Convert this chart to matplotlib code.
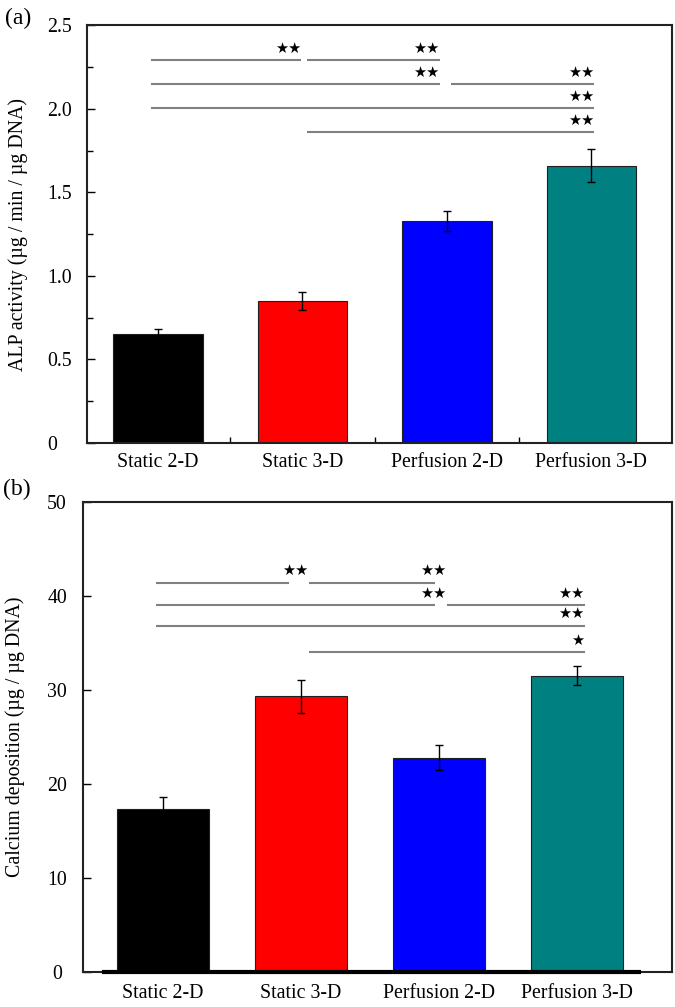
import matplotlib
matplotlib.use("Agg")
import matplotlib.pyplot as plt
from matplotlib.ticker import MultipleLocator, FixedLocator

plt.rcParams['font.family'] = ['Liberation Serif', 'DejaVu Serif']

categories = ["Static 2-D", "Static 3-D", "Perfusion 2-D", "Perfusion 3-D"]
colors = ["#000000", "#ff0000", "#0000ff", "#008080"]

alp_values = [0.65, 0.85, 1.33, 1.66]
alp_errors = [0.03, 0.055, 0.06, 0.10]
alp_ticks = [0, 0.5, 1.0, 1.5, 2.0, 2.5]
alp_ticklabels = ["0", "0.5", "1.0", "1.5", "2.0", "2.5"]
# comparisons: (group i, group j, row, stars)
alp_sig = [(0, 1, 0, "★★"), (1, 2, 0, "★★"), (0, 2, 1, "★★"), (2, 3, 1, "★★"),
           (0, 3, 2, "★★"), (1, 3, 3, "★★")]
alp_rows = [2.29, 2.15, 2.005, 1.86]

ca_values = [17.3, 29.3, 22.8, 31.5]
ca_errors = [1.3, 1.8, 1.3, 1.0]
ca_ticks = [0, 10, 20, 30, 40, 50]
ca_ticklabels = ["0", "10", "20", "30", "40", "50"]
ca_sig = [(0, 1, 0, "★★"), (1, 2, 0, "★★"), (0, 2, 1, "★★"), (2, 3, 1, "★★"),
          (0, 3, 2, "★★"), (1, 3, 3, "★")]
ca_rows = [41.4, 39.0, 36.8, 34.0]

fig = plt.figure(figsize=(6.75, 10.07), dpi=100)
ax1 = fig.add_axes([0.129, 0.560, 0.867, 0.415])
ax2 = fig.add_axes([0.123, 0.035, 0.873, 0.4665])

FS = 14.3

def draw(ax, values, errors, ticks, ticklabels, sig, rows, ylim, xlim, width,
         ylabel, star_off, minor, end_off, start_off, star_right, ypad, yha,
         xpad, labelpad):
    x = list(range(len(categories)))
    ax.bar(x, values, width=width, color=colors, edgecolor="#202020", linewidth=0.8,
           zorder=2)
    ax.errorbar(x, values, yerr=errors, fmt="none", ecolor="black", elinewidth=1.0,
                capsize=3, capthick=1.0, zorder=3)
    ax.set_xlim(*xlim)
    ax.set_ylim(*ylim)
    ax.set_xticks(x)
    ax.set_xticklabels(categories, fontsize=FS)
    ax.set_yticks(ticks)
    ax.set_yticklabels(ticklabels, fontsize=FS)
    for lab in ax.get_yticklabels():
        lab.set_horizontalalignment(yha)
    ax.tick_params(axis="x", length=0, pad=xpad)
    ax.tick_params(axis="y", direction="in", length=6, width=1, pad=ypad)
    if minor is not None:
        ax.yaxis.set_minor_locator(MultipleLocator(minor))
        ax.xaxis.set_minor_locator(FixedLocator([0.5, 1.5, 2.5, 3.0]))
        ax.tick_params(which="minor", direction="in", length=4, width=1)
    ax.set_ylabel(ylabel, fontsize=FS, labelpad=labelpad)
    for s in ax.spines.values():
        s.set_linewidth(1.5)
        s.set_color("#222222")
    for (i, j, r, lab) in sig:
        y = rows[r]
        x0 = i - 0.05 if i == 0 else i + start_off
        x1 = j + end_off[j]
        ax.plot([x0, x1], [y, y], color="#808080", lw=1.5, zorder=1,
                solid_capstyle="butt")
        xr = x1 if star_right is None else j + star_right
        ax.text(xr, y + star_off, lab, ha="right", va="center",
                fontsize=10.5, family=["DejaVu Sans"], color="black")

draw(ax1, alp_values, alp_errors, alp_ticks, alp_ticklabels, alp_sig, alp_rows,
     (0, 2.5), (-0.49, 3.56), 0.62,
     "ALP activity (µg / min / µg DNA)", 0.07, 0.25,
     {1: -0.01, 2: -0.05, 3: 0.02}, 0.03, None, 28.8, "left", 7, 14)
draw(ax2, ca_values, ca_errors, ca_ticks, ca_ticklabels, ca_sig, ca_rows,
     (0, 50), (-0.58, 3.69), 0.67,
     "Calcium deposition (µg / µg DNA)", 1.3, None,
     {1: -0.09, 2: -0.03, 3: 0.06}, 0.06, 0.05, 18.7, "center", 9, 16)
ax2.plot([-0.43, 3.45], [0, 0], color="black", lw=3, zorder=4, clip_on=False)

fig.text(0.008, 0.982, "(a)", fontsize=17, va="center", ha="left")
fig.text(0.004, 0.514, "(b)", fontsize=17, va="center", ha="left")

fig.savefig("out.png", dpi=100)
